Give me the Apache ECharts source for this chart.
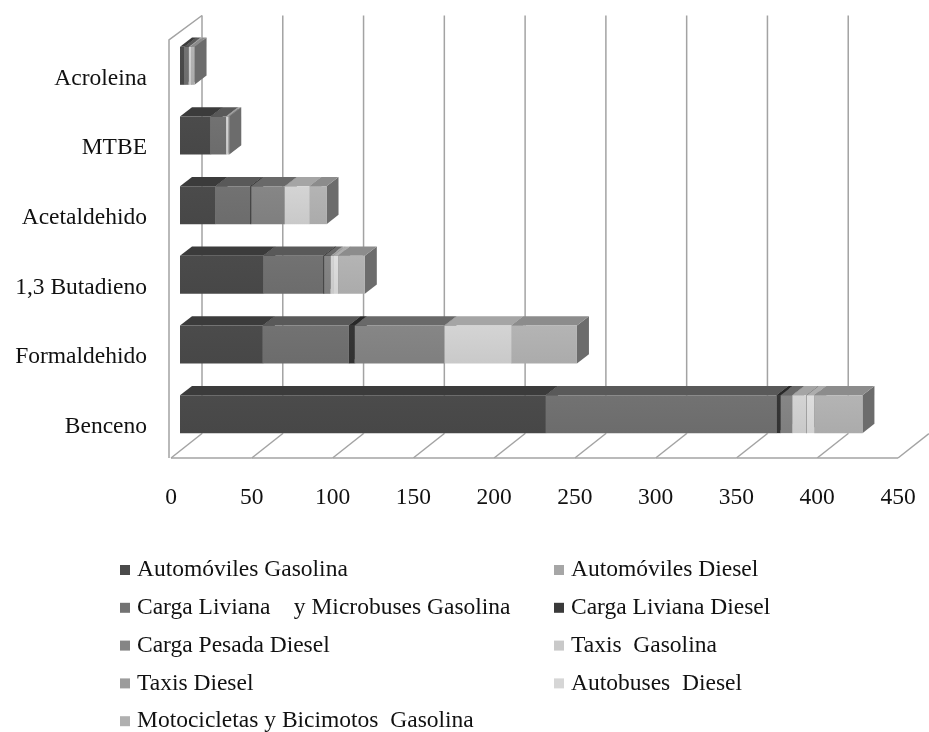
<!DOCTYPE html>
<html>
<head>
<meta charset="utf-8">
<script src="https://cdn.jsdelivr.net/npm/echarts@6/dist/echarts.min.js"></script>
<style>
html,body{margin:0;padding:0;background:#fff;}
#chart{width:929px;height:732px;}
</style>
</head>
<body>
<div id="chart"></div>
<script>
// ---- data ----
const categories = ['Benceno', 'Formaldehido', '1,3 Butadieno', 'Acetaldehido', 'MTBE', 'Acroleina'];
const xTicks = [0, 50, 100, 150, 200, 250, 300, 350, 400, 450];

const seriesNames = [
  'Automóviles Gasolina',
  'Automóviles Diesel',
  'Carga Liviana    y Microbuses Gasolina',
  'Carga Liviana Diesel',
  'Carga Pesada Diesel',
  'Taxis  Gasolina',
  'Taxis Diesel',
  'Autobuses  Diesel',
  'Motocicletas y Bicimotos  Gasolina'
];
const autoGasolina      = [226.5, 51.3, 51.6, 22.0, 19.0, 2.8];
const autoDiesel        = [0, 0, 0, 0, 0, 0];
const cargaLivGasolina  = [142.8, 53.2, 37.1, 21.5, 9.5, 2.6];
const cargaLivDiesel    = [2.5, 3.7, 0.5, 0.6, 0, 0];
const cargaPesDiesel    = [7.2, 55.5, 4.0, 20.8, 0, 0];
const taxisGasolina     = [8.5, 41.5, 1.6, 15.3, 1.5, 1.4];
const taxisDiesel       = [0.5, 0, 0, 0, 0, 0];
const autobusesDiesel   = [4.7, 0, 3.1, 0, 0, 0];
const motosGasolina     = [29.7, 40.5, 16.5, 10.5, 0.5, 2.2];

const seriesValues = [autoGasolina, autoDiesel, cargaLivGasolina, cargaLivDiesel,
  cargaPesDiesel, taxisGasolina, taxisDiesel, autobusesDiesel, motosGasolina];

// ---- styling ----
const frontColors = ['#4b4b4b', '#a5a5a5', '#727272', '#353535', '#868686', '#d4d4d4', '#a0a0a0', '#dedede', '#b4b4b4'];
const legendColors = ['#4a4a4a', '#a6a6a6', '#737373', '#3a3a3a', '#858585', '#c9c9c9', '#9c9c9c', '#d6d6d6', '#b0b0b0'];
const FONT = 'Liberation Serif';
const FS = 23.5;
const BAR_DX = 9, BAR_LIFT = 12.5, BAR_RATIO = 0.545, DEPTH_X = 12, DEPTH_Y = 9.3;
const WALL_DX = 31, WALL_DY = 24.5, FLOOR_UP = 3.5, LINE = '#a3a3a3';

function shade(hex, f) {
  const n = parseInt(hex.slice(1), 16);
  const r = Math.round(((n >> 16) & 255) * f), g = Math.round(((n >> 8) & 255) * f), b = Math.round((n & 255) * f);
  return 'rgb(' + r + ',' + g + ',' + b + ')';
}

// cumulative stacking
const cum = categories.map(() => 0);
const barSeries = seriesValues.map((vals, si) => {
  const data = vals.map((v, ci) => {
    const s = cum[ci];
    cum[ci] += v;
    return [s, s + v, ci, v];
  });
  const col = frontColors[si];
  return {
    type: 'custom',
    name: seriesNames[si],
    coordinateSystem: 'cartesian2d',
    encode: { x: [0, 1], y: 2 },
    itemStyle: { color: legendColors[si] },
    silent: true,
    z: 3,
    data: data,
    renderItem: function (params, api) {
      const s = api.value(0), e = api.value(1), c = api.value(2);
      if (e - s <= 0) return null;
      const p0 = api.coord([s, c]), p1 = api.coord([e, c]);
      const band = api.size([0, 1])[1];
      const h = band * BAR_RATIO;
      const x0 = p0[0] + BAR_DX, x1 = p1[0] + BAR_DX;
      const cy = p0[1] - BAR_LIFT;
      const yT = cy - h / 2, yB = cy + h / 2;
      return {
        type: 'group',
        children: [
          { type: 'polygon', shape: { points: [[x1, yT], [x1 + DEPTH_X, yT - DEPTH_Y], [x1 + DEPTH_X, yB - DEPTH_Y], [x1, yB]] },
            style: { fill: shade(col, 0.6) } },
          { type: 'polygon', shape: { points: [[x0, yT], [x0 + DEPTH_X, yT - DEPTH_Y], [x1 + DEPTH_X, yT - DEPTH_Y], [x1, yT]] },
            style: { fill: shade(col, 0.78) } },
          { type: 'rect', shape: { x: x0, y: yT, width: x1 - x0, height: h },
            style: { fill: {
              type: 'linear', x: 0, y: 0, x2: 0, y2: 1,
              colorStops: [{ offset: 0, color: shade(col, 1.0) }, { offset: 1, color: shade(col, 0.95) }]
            } } }
        ]
      };
    }
  };
});

// walls / floor drawn from the value axis ticks
const decoSeries = {
  type: 'custom',
  coordinateSystem: 'cartesian2d',
  encode: { x: 0, y: 1 },
  silent: true,
  z: 1,
  data: xTicks.map((t, i) => [t, 0, i]),
  renderItem: function (params, api) {
    const cs = params.coordSys;
    const v = api.value(0), i = api.value(2);
    const floorY = cs.y + cs.height - FLOOR_UP;
    const frontTop = cs.y - FLOOR_UP;
    const backTop = frontTop - WALL_DY;
    const x = api.coord([v, 0])[0];
    const st = { stroke: LINE, lineWidth: 1.5, fill: null };
    const ch = [];
    ch.push({ type: 'line', shape: { x1: x, y1: floorY, x2: x + WALL_DX, y2: floorY - WALL_DY }, style: st });
    if (i < xTicks.length - 1) {
      ch.push({ type: 'line', shape: { x1: x + WALL_DX, y1: floorY - WALL_DY, x2: x + WALL_DX, y2: backTop }, style: st });
      const xn = api.coord([xTicks[i + 1], 0])[0];
      ch.push({ type: 'line', shape: { x1: x, y1: floorY, x2: xn, y2: floorY }, style: st });
    }
    if (i === 0) {
      const xl = x - 2;
      ch.push({ type: 'polyline', shape: { points: [[xl, floorY], [xl, frontTop], [x + WALL_DX, backTop]] }, style: st });
    }
    return { type: 'group', children: ch };
  }
};

const legendLeft = [0, 2, 4, 6].map(i => seriesNames[i]);
const legendRight = [1, 3, 5, 7].map(i => seriesNames[i]);
const legendLast = [seriesNames[8]];
const ROW = 37.8, LEG_TOP = 558;
const legendBase = {
  orient: 'vertical', itemWidth: 10, itemHeight: 10, itemGap: ROW - 24, icon: 'rect',
  padding: 0,
  selectedMode: false,
  textStyle: { fontFamily: FONT, fontSize: FS, lineHeight: 24, color: '#111', padding: [0, 0, 0, 2] }
};

const chart = echarts.init(document.getElementById('chart'), null, { renderer: 'canvas' });
chart.setOption({
  animation: false,
  backgroundColor: '#ffffff',
  grid: { left: 171, right: 31, top: 43.5, bottom: 270.5, containLabel: false },
  xAxis: {
    type: 'value', min: 0, max: 450, interval: 50,
    axisLine: { show: false }, axisTick: { show: false }, splitLine: { show: false },
    axisLabel: { fontFamily: FONT, fontSize: FS, color: '#111', margin: 24 }
  },
  yAxis: {
    type: 'category', data: categories,
    axisLine: { show: false }, axisTick: { show: false }, splitLine: { show: false },
    axisLabel: { fontFamily: FONT, fontSize: FS, color: '#111', margin: 24 }
  },
  legend: [
    Object.assign({}, legendBase, { left: 120, top: LEG_TOP, data: legendLeft }),
    Object.assign({}, legendBase, { left: 554, top: LEG_TOP, data: legendRight }),
    Object.assign({}, legendBase, { left: 120, top: LEG_TOP + 4 * ROW, data: legendLast })
  ],
  series: [decoSeries].concat(barSeries)
});
</script>
</body>
</html>
